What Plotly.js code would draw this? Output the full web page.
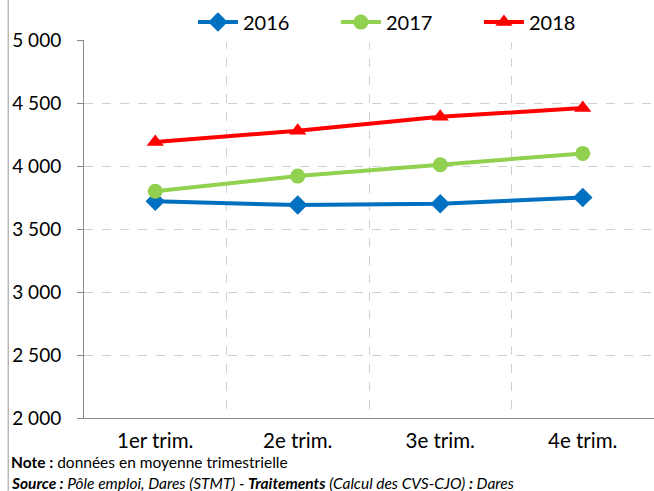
<!DOCTYPE html>
<html><head><meta charset="utf-8">
<script src="https://cdn.plot.ly/plotly-3.0.1.min.js"></script>
<style>body{margin:0;background:#fff}#chart{width:654px;height:491px}</style>
</head><body><div id="chart"></div>
<script>
const categories = ["1er trim.", "2e trim.", "3e trim.", "4e trim."];
const series2016 = [3720, 3690, 3700, 3750];
const series2017 = [3800, 3920, 4010, 4100];
const series2018 = [4190, 4280, 4390, 4460];
const yTickVals = [2000, 2500, 3000, 3500, 4000, 4500, 5000];
const yTickText = ["2 000", "2 500", "3 000", "3 500", "4 000", "4 500", "5 000"];

const font = "Lato, 'Open Sans', sans-serif";
function tr(name, y, color, symbol, size) {
  return {x: categories, y: y, name: name, type: "scatter", mode: "lines+markers",
    line: {color: color, width: 4}, marker: {color: color, symbol: symbol, size: size}};
}
const data = [
  tr("2016", series2016, "#0070C0", "diamond", 15),
  tr("2017", series2017, "#92D050", "circle", 15),
  tr("2018", series2018, "#FF0000", "triangle-up", 15)
];
const layout = {
  width: 654, height: 491,
  margin: {l: 84, r: 0, t: 40, b: 73, autoexpand: false},
  paper_bgcolor: "#fff", plot_bgcolor: "#fff",
  font: {family: font, color: "#000"},
  showlegend: true,
  legend: {orientation: "h", x: 0.295, xanchor: "left", xref: "container", y: 0.955, yanchor: "middle", yref: "container",
    font: {size: 20, family: font}, itemwidth: 40, entrywidth: 88, traceorder: "normal", itemclick: false},
  xaxis: {type: "category", range: [-0.5, 3.5], tickson: "boundaries",
    showgrid: true, gridcolor: "#d0d0d0", griddash: "dash", gridwidth: 1,
    showline: true, linecolor: "#888", linewidth: 1,
    ticks: "outside", ticklen: 0, tickcolor: "#888", ticklabelstandoff: 4,
    tickfont: {size: 20.5, family: font}, fixedrange: true},
  yaxis: {range: [2000, 5000], tickvals: yTickVals, ticktext: yTickText,
    showgrid: true, gridcolor: "#d0d0d0", griddash: "dash", gridwidth: 1,
    showline: true, linecolor: "#888", linewidth: 1, zeroline: false,
    ticks: "outside", ticklen: 6, tickcolor: "#888", ticklabelstandoff: 12,
    tickfont: {size: 19, family: font}, fixedrange: true},
  shapes: [{type: "line", xref: "paper", yref: "paper", x0: -0.133, x1: -0.133, y0: -0.2, y1: 1.11,
    line: {color: "#999", width: 1}}],
  annotations: [
    {xref: "paper", yref: "paper", x: -0.13, y: -0.116, xanchor: "left", yanchor: "middle", showarrow: false,
      text: "<b>Note :</b> données en moyenne trimestrielle", font: {size: 15.5, family: font}, borderpad: 0},
    {xref: "paper", yref: "paper", x: -0.13, y: -0.172, xanchor: "left", yanchor: "middle", showarrow: false,
      text: "<i><b>Source :</b> Pôle emploi, Dares (STMT) - <b>Traitements</b> (Calcul des CVS-CJO) <b>:</b> Dares</i>", font: {size: 15.5, family: font}, borderpad: 0}
  ]
};
Plotly.newPlot("chart", data, layout, {displayModeBar: false, staticPlot: true});
</script>
</body></html>
